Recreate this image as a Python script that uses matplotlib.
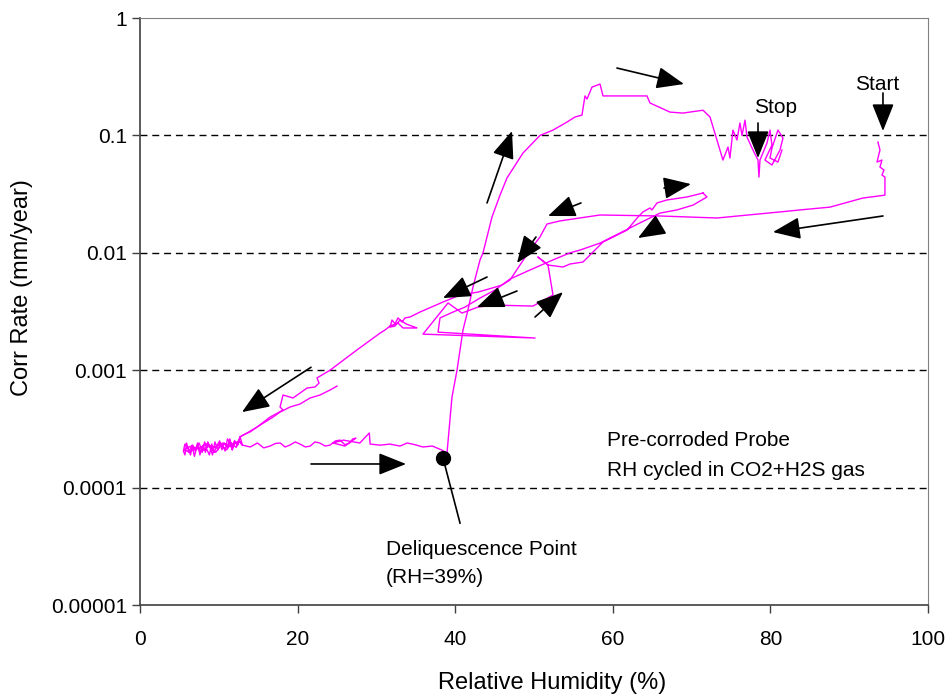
import matplotlib
matplotlib.use("Agg")
import matplotlib.pyplot as plt
from matplotlib.ticker import FixedLocator, FixedFormatter, NullLocator

plt.rcParams['font.family'] = ['Liberation Sans', 'DejaVu Sans']

# ---- data (RH %, corrosion rate mm/year) ----
# first descent: Start at 94% down to low RH
desc1_x = [93.65, 93.91, 93.53, 94.16, 93.91, 94.42, 94.16, 94.54, 94.54, 91.75, 87.56, 83.76,
           81.22, 73.22, 65.99, 58.38, 53.3, 51.65, 50.76, 49.49, 48.22, 46.95, 45.94, 44.67,
           42.89, 40.61, 38.45, 35.53, 34.26, 33.63, 33.25, 32.74, 32.36, 31.98, 31.73, 32.36,
           33.0, 33.76, 35.15, 33.38, 32.74, 31.73, 31.09, 30.46, 27.54, 24.11, 22.46, 22.72,
           22.21, 21.19, 19.42, 18.15, 17.77, 18.15, 16.5, 14.85, 13.58, 12.69]
desc1_y = [0.0879, 0.0751, 0.0593, 0.0617, 0.0538, 0.0507, 0.046, 0.0442, 0.031, 0.0293, 0.0245,
           0.0232, 0.0223, 0.0198, 0.0206, 0.021, 0.0187, 0.0176, 0.01364, 0.01056, 0.00787,
           0.00586, 0.00532, 0.00501, 0.00463, 0.00437, 0.00381, 0.00313, 0.00284, 0.00279,
           0.00258, 0.00279, 0.00248, 0.00268, 0.00233, 0.00238, 0.00268, 0.00248, 0.00229,
           0.00229, 0.00252, 0.00238, 0.0022, 0.00207, 0.00149, 0.001, 0.00086, 0.000778,
           0.00072, 0.000705, 0.00058, 0.000615, 0.000486, 0.000458, 0.000399, 0.000328,
           0.000292, 0.00027]

# noisy band at the lowest RH (several passes)
band_x = [12.69, 12.3, 12.0, 11.7, 11.4, 11.1, 10.8, 10.5, 10.2, 9.9, 9.5, 9.2, 8.9, 8.6, 8.3,
          8.0, 7.6, 7.3, 7.0, 6.7, 6.4, 6.1, 5.7, 5.5, 5.7, 5.9, 6.2, 6.6, 6.9, 7.2, 7.5, 7.9,
          8.2, 8.5, 8.8, 9.1, 9.4, 9.8, 10.1, 10.4, 10.7, 11.1, 11.4, 11.7, 12.0, 12.4, 12.7,
          13.0, 12.6, 12.2, 11.6, 11.0, 10.3, 9.6, 8.7, 7.8, 7.0, 6.3, 5.6, 6.4, 7.4, 8.4,
          9.4, 10.5, 11.5, 12.5, 13.0]
band_y = [0.00027, 0.00023, 0.00025, 0.00021, 0.00024, 0.00026, 0.000205, 0.00023, 0.00024,
          0.00021, 0.000245, 0.00019, 0.00022, 0.000245, 0.0002, 0.00023, 0.00019, 0.00024,
          0.000205, 0.00023, 0.00019, 0.00022, 0.000235, 0.000205, 0.00019, 0.00024, 0.0002,
          0.00023, 0.000185, 0.00022, 0.00024, 0.0002, 0.000245, 0.00021, 0.00019, 0.000235,
          0.0002, 0.00023, 0.00025, 0.00021, 0.00024, 0.00022, 0.00026, 0.00021, 0.00025,
          0.00023, 0.00027, 0.00023, 0.00025, 0.00022, 0.00024, 0.00021, 0.00023, 0.0002,
          0.000225, 0.000205, 0.00022, 0.0002, 0.00021, 0.000225, 0.000215, 0.000235,
          0.00022, 0.00024, 0.000225, 0.00025, 0.00023]

# RH raised again along the low band up to the deliquescence point
ret_x = [13.0, 14.0, 14.9, 15.7, 16.5, 17.2, 17.8, 18.4, 19.0, 19.7, 20.3, 21.0, 21.6, 22.2,
         22.8, 23.5, 24.1, 24.8, 25.4, 26.0, 26.6, 27.0, 27.4, 26.0, 24.5, 25.8, 27.9, 29.1,
         29.2, 30.5, 31.7, 33.0, 33.9, 34.9, 35.9, 37.1, 38.3, 38.96]
ret_y = [0.00023, 0.000222, 0.00024, 0.000218, 0.000226, 0.000238, 0.00024, 0.000222,
         0.00023, 0.000245, 0.000235, 0.000222, 0.000226, 0.000245, 0.00024, 0.000226,
         0.00023, 0.00025, 0.000254, 0.000232, 0.00024, 0.00026, 0.000264, 0.000226, 0.00024,
         0.000254, 0.00024, 0.000292, 0.000235, 0.00023, 0.000235, 0.000226, 0.00024,
         0.000232, 0.000222, 0.000226, 0.000209, 0.000197]

# steep rise after deliquescence, plateau and Stop
rise_x = [38.96, 39.59, 40.23, 40.99, 41.62, 42.26, 43.15, 43.53, 44.67, 45.69, 46.57, 48.6,
          50.76, 52.41, 54.19, 55.2, 56.09, 56.47, 56.73, 57.36, 58.38, 58.76, 60.91, 64.34,
          64.72, 67.26, 68.91, 71.45, 72.34, 73.22, 73.98, 74.62, 74.87, 75.25, 75.76, 76.14,
          76.4, 76.78, 77.03, 77.79, 78.43, 78.55, 78.68, 79.57, 79.95, 80.2, 79.31, 80.2,
          81.22, 81.6, 80.96, 80.2, 79.95, 80.96, 81.47]
rise_y = [0.000197, 0.00059, 0.001, 0.0022, 0.00326, 0.00512, 0.0087, 0.01, 0.0202, 0.031,
          0.0434, 0.0708, 0.1, 0.111, 0.13, 0.1435, 0.149, 0.217, 0.204, 0.258, 0.274, 0.217,
          0.217, 0.217, 0.189, 0.158, 0.155, 0.164, 0.1435, 0.0914, 0.0617, 0.0796, 0.0642,
          0.111, 0.0914, 0.1276, 0.1, 0.135, 0.097, 0.0751, 0.0617, 0.0442, 0.0617, 0.0861,
          0.111, 0.0828, 0.0617, 0.056, 0.0751, 0.095, 0.111, 0.0781, 0.0642, 0.0593, 0.0751]

# second descent starting near 25% RH
desc2_x = [25.0, 24.11, 22.84, 21.57, 20.3, 19.04, 17.77, 16.88, 15.86, 14.85, 13.96, 13.07, 12.69]
desc2_y = [0.000733, 0.000678, 0.000615, 0.00058, 0.000515, 0.000486, 0.00044, 0.000399,
           0.000362, 0.000328, 0.000298, 0.000281, 0.00027]

# loop between 36% and 72% RH
loop_x = [71.45, 71.95, 70.18, 68.15, 65.99, 63.45, 60.91, 58.38, 55.84, 54.57, 52.41, 49.49,
          46.95, 45.05, 43.15, 41.24, 39.72, 38.07, 37.82, 50.13, 35.91, 39.09, 40.86, 42.89,
          44.8, 49.87, 52.41, 51.78, 50.51, 51.78, 53.68, 54.57, 56.22, 58.76, 61.8, 63.2,
          63.83, 64.72, 64.97, 65.61, 66.88, 69.42, 71.45]
loop_y = [0.0323, 0.0299, 0.0255, 0.0232, 0.0218, 0.018, 0.01475, 0.0121, 0.01056, 0.01,
          0.0087, 0.00714, 0.00598, 0.00482, 0.00412, 0.00345, 0.00313, 0.00279, 0.00211,
          0.00188, 0.00203, 0.00374, 0.00307, 0.00345, 0.00359, 0.00352, 0.00437, 0.00787,
          0.0092, 0.00787, 0.00757, 0.00803, 0.00835, 0.01237, 0.0156, 0.0202, 0.0223, 0.0241,
          0.0232, 0.0266, 0.0282, 0.0299, 0.0323]

deliq_x, deliq_y = 38.45, 0.000179

# arrows: (tail x, tail y, head x, head y)
arrows = [
    (60.53, 0.375, 69.04, 0.274),
    (94.29, 0.23, 94.29, 0.109),
    (78.43, 0.1276, 78.43, 0.0642),
    (44.04, 0.0266, 47.21, 0.109),
    (66.5, 0.0356, 69.92, 0.0385),
    (94.29, 0.0206, 80.33, 0.01503),
    (65.99, 0.01725, 63.2, 0.01337),
    (55.96, 0.0266, 51.78, 0.0206),
    (50.25, 0.01364, 47.84, 0.00819),
    (44.04, 0.00622, 38.45, 0.00412),
    (47.84, 0.00473, 42.77, 0.00345),
    (50.13, 0.00284, 53.68, 0.00463),
    (21.7, 0.00106, 12.94, 0.00044),
    (21.7, 0.000159, 33.76, 0.000159),
]

yticks = [1e-5, 1e-4, 1e-3, 1e-2, 1e-1, 1]
ytick_labels = ["0.00001", "0.0001", "0.001", "0.01", "0.1", "1"]
xticks = [0, 20, 40, 60, 80, 100]

fig = plt.figure(figsize=(9.5, 6.96), dpi=100)
ax = fig.add_axes([0.1474, 0.1307, 0.8294, 0.8434])
ax.set_yscale('log')
ax.set_xlim(0, 100)
ax.set_ylim(1e-5, 1)

for yv in yticks[1:-1]:
    ax.axhline(yv, color='black', lw=1, ls=(0, (5, 3.5)), zorder=1)

mag = '#ff00ff'
for xs, ys in [(desc1_x, desc1_y), (band_x, band_y), (ret_x, ret_y),
               (rise_x, rise_y), (desc2_x, desc2_y), (loop_x, loop_y)]:
    ax.plot(xs, ys, color=mag, lw=1, zorder=3)

ax.plot([deliq_x], [deliq_y], 'o', color='black', ms=10, zorder=5)
ax.plot([deliq_x, 40.61], [deliq_y, 4.99e-5], color='black', lw=1.2, zorder=4)

for x0, y0, x1, y1 in arrows:
    ax.annotate('', xy=(x1, y1), xytext=(x0, y0),
                arrowprops=dict(arrowstyle='-|>,head_length=0.5,head_width=0.2',
                                color='black', lw=1.2, mutation_scale=34,
                                shrinkA=0, shrinkB=0), zorder=6)

ax.text(93.5, 0.269, "Start", fontsize=15, ha='center', va='center')
ax.text(80.7, 0.1746, "Stop", fontsize=15, ha='center', va='center')
ax.text(59.26, 0.000254, "Pre-corroded Probe", fontsize=15, ha='left', va='center')
ax.text(59.26, 0.000141, "RH cycled in CO2+H2S gas", fontsize=15, ha='left', va='center')
ax.text(31.2, 3.0e-5, "Deliquescence Point", fontsize=15, ha='left', va='center')
ax.text(31.2, 1.7e-5, "(RH=39%)", fontsize=15, ha='left', va='center')

ax.yaxis.set_major_locator(FixedLocator(yticks))
ax.yaxis.set_major_formatter(FixedFormatter(ytick_labels))
ax.yaxis.set_minor_locator(NullLocator())
ax.set_xticks(xticks)
ax.tick_params(labelsize=15, direction='out', length=6, width=1, color='#404040')
ax.tick_params(axis='x', pad=12)

for s in ['top', 'right']:
    ax.spines[s].set_color('#808080')
for s in ['left', 'bottom']:
    ax.spines[s].set_color('#404040')
    ax.spines[s].set_linewidth(1.2)

ax.set_xlabel("Relative Humidity (%)", fontsize=17)
ax.set_ylabel("Corr Rate (mm/year)", fontsize=17)
ax.xaxis.set_label_coords(0.523, -0.133)
ax.yaxis.set_label_coords(-0.150, 0.54)
ax.xaxis.label.set_va('center')
ax.yaxis.label.set_va('center')

fig.savefig("out.png", dpi=100)
